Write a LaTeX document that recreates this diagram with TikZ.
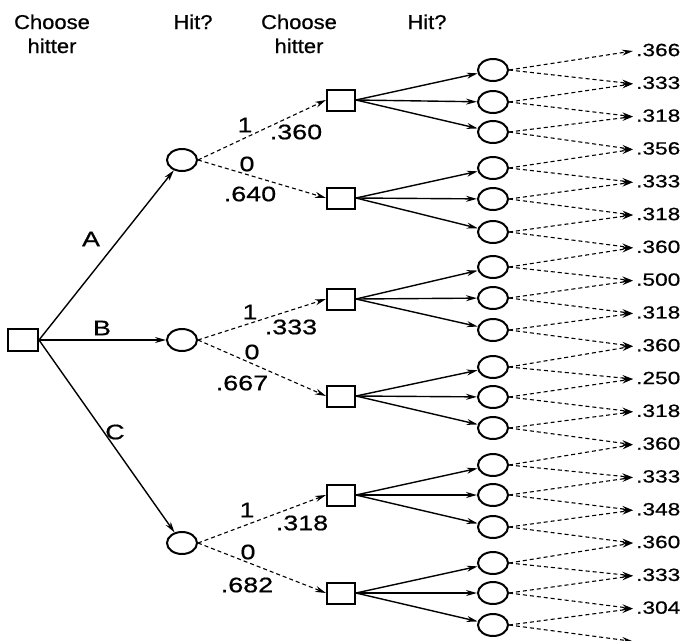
\documentclass[tikz,border=0pt]{standalone}
\usepackage{fontspec}
\setmainfont{Liberation Sans}
\newfontfamily\hdrfont[FakeStretch=1.1,FakeBold=0.7]{Liberation Sans}
\newfontfamily\numfont[FakeStretch=1.28,FakeBold=0.7]{Liberation Sans}
\usetikzlibrary{arrows.meta,shapes.geometric}
\begin{document}
\begin{tikzpicture}[x=1pt,y=-1pt,
  sq/.style={draw, rectangle, line width=2pt, minimum width=28pt, minimum height=21pt, inner sep=0pt},
  ch/.style={draw, ellipse, line width=2pt, minimum width=30pt, minimum height=22pt, inner sep=0pt},
  sol/.style={line width=1.4pt, -{Stealth[length=11pt,width=6pt]}},
  dsh/.style={line width=1.1pt, dash pattern=on 4pt off 3pt, -{Stealth[length=11pt,width=6pt]}},
  hdr/.style={font=\hdrfont\fontsize{20}{24}\selectfont, inner sep=0pt, anchor=base},
  mlab/.style={font=\numfont\fontsize{21}{24}\selectfont, inner sep=0pt},
  leaf/.style={font=\numfont\fontsize{17.7}{20}\selectfont, inner sep=0pt, anchor=west}]
\useasboundingbox (0,0) rectangle (687,640);
% headers
\node[hdr] (h1a) at (52,29) {Choose};
\node[hdr] (h1b) at (52,53) {hitter};
\node[hdr] (h2) at (193,29) {Hit?};
\node[hdr] (h3a) at (299,29) {Choose};
\node[hdr] (h3b) at (299,53) {hitter};
\node[hdr] (h4) at (427,29) {Hit?};
% root and first level
\node[sq, minimum width=30pt, minimum height=22pt] (root) at (23,340) {};
\node[ch] (ca) at (182,160) {};
\node[ch] (cb) at (182,340) {};
\node[ch] (cc) at (182,543) {};
\draw[sol] (root.east) -- (ca);
\draw[sol] (root.east) -- (cb);
\draw[sol] (root.east) -- (cc);
\node[mlab] (la) at (91,239) {A};
\node[mlab] (lb) at (102,328) {B};
\node[mlab] (lc) at (115,432) {C};
% second level squares
\foreach \y [count=\j] in {100,198,299,396,495,593}
  \node[sq] (s\j) at (341,\y) {};
\draw[dsh] (ca.east) -- (s1.west);
\draw[dsh] (ca.east) -- (s2.west);
\draw[dsh] (cb.east) -- (s3.west);
\draw[dsh] (cb.east) -- (s4.west);
\draw[dsh] (cc.east) -- (s5.west);
\draw[dsh] (cc.east) -- (s6.west);
% mid labels
\node[mlab] (a1) at (245,125) {1};
\node[mlab] (a1p) at (296,132) {.360};
\node[mlab] (a0) at (247,164) {0};
\node[mlab] (a0p) at (250,194) {.640};
\node[mlab] (b1) at (250,312) {1};
\node[mlab] (b1p) at (291,327) {.333};
\node[mlab] (b0) at (252,352) {0};
\node[mlab] (b0p) at (242,383) {.667};
\node[mlab] (c1l) at (247,510) {1};
\node[mlab] (c1p) at (302,523) {.318};
\node[mlab] (c0l) at (248,552) {0};
\node[mlab] (c0p) at (247,585) {.682};
% third level circles
\foreach \y [count=\i] in {70,102,132,168,199,232,267,298,330,367,397,428,465,495,527,563,593,625}
  \node[ch] (c\i) at (493,\y) {};
\foreach \j in {1,...,6}{
  \foreach \k in {0,1,2}{
    \pgfmathtruncatemacro\n{3*\j-2+\k}
    \draw[sol] (s\j.east) -- (c\n);
  }
}
% leaves
\foreach \k in {0,...,18}
  \coordinate (e\k) at (633,{51+32.8*\k});
\foreach \t [count=\k from 0] in {.366,.333,.318,.356,.333,.318,.360,.500,.318,.360,.250,.318,.360,.333,.348,.360,.333,.304}
  \node[leaf] (l\k) at (636,{50+32.8*\k}) {\t};
\foreach \i in {1,...,18}{
  \pgfmathtruncatemacro\a{\i-1}
  \draw[dsh] (c\i.east) -- (e\a);
  \draw[dsh] (c\i.east) -- (e\i);
}
\end{tikzpicture}
\end{document}
